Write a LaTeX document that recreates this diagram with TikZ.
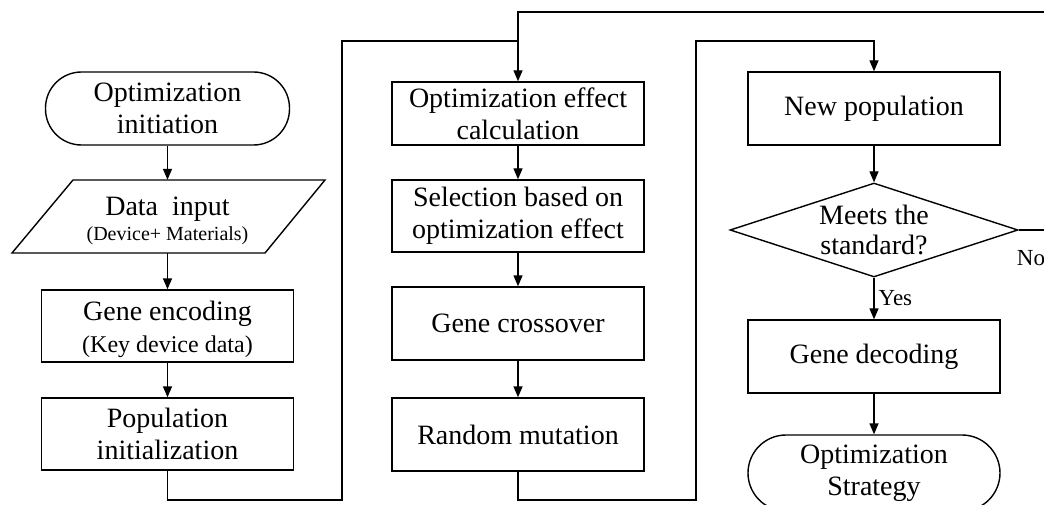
\documentclass[tikz,border=0pt]{standalone}
\usepackage{fontspec}
\setmainfont{Liberation Serif}
\usetikzlibrary{arrows.meta,shapes.geometric}
\begin{document}
\begin{tikzpicture}[x=1pt,y=-1pt,
  every node/.style={font=\fontsize{28}{32}\selectfont, align=center, inner sep=0pt},
  box/.style={draw, line width=1.4pt, minimum width=252pt, minimum height=73pt},
  term/.style={draw, line width=1.4pt, rounded corners=36pt, minimum width=244pt, minimum height=73pt},
  dec/.style={draw, line width=1.4pt, diamond, aspect=3.06, minimum width=288pt, minimum height=94pt},
  line/.style={line width=1.4pt},
  arr/.style={line, -{Triangle[length=11pt,width=9pt]}},
  lab/.style={font=\fontsize{23}{26}\selectfont}
]
\path[use as bounding box, clip] (0,0) rectangle (1044,505);
\fill[white] (0,0) rectangle (1044,505);

% column 1
\node[term] (start) at (167.5,108.5) {Optimization\\initiation};
\node[minimum width=252pt, minimum height=73pt] (data) at (167.5,216.5) {};
\node at ([yshift=-4pt]data.center)
  {Data\ \ input\\[-7pt]{\fontsize{20}{22}\selectfont (Device+ Materials)}};
\draw[line] (73,180) -- (325,180) -- (265,253) -- (12,253) -- cycle;
\node[box, minimum height=72pt] (gene) at (167.5,326) {};
\node at ([yshift=-3pt]gene.center) {Gene encoding\\{\fontsize{24}{30}\selectfont (Key device data)}};
\node[box, minimum height=72pt] (pop) at (167.5,434) {Population\\initialization};

% column 2
\node[box, minimum height=63pt] (calc) at (518,113.5) {Optimization effect\\calculation};
\node[box, minimum height=72pt] (sel) at (518,216) {Selection based on\\optimization effect};
\node[box] (cross) at (518,323.5) {Gene crossover};
\node[box] (mut) at (518,434.5) {Random mutation};

% column 3
\node[box] (newpop) at (874,108.5) {New population};
\node[dec, label={[font=\fontsize{28}{30}\selectfont, align=center]center:Meets the\\standard?}] (dm) at (874,230) {};
\node[box] (decode) at (874,356.5) {Gene decoding};
\node[term, minimum width=252pt, minimum height=76pt, rounded corners=38pt] (final) at (874,473) {Optimization\\Strategy};
\node[lab] (no) at (1031,258) {No};

% helper coordinates
\coordinate (b1) at (342,500);
\coordinate (t1) at (342,41);
\coordinate (b2) at (696,500);
\coordinate (r1) at (1060,12);

% connectors
\draw[arr] (start.south) -- (data.north);
\draw[arr] (data.south) -- (gene.north);
\draw[arr] (gene) -- (pop);
\draw[line] (pop.south) |- (b1) |- (calc.north |- t1);

\draw[arr] (calc) -- (sel);
\draw[arr] (sel) -- (cross);
\draw[arr] (cross) -- (mut);
\draw[arr] (mut.south) |- (b2) |- (newpop.north |- t1) -- (newpop.north);

\draw[arr] (newpop) -- (dm.north);
\draw[arr] (dm.south) -- node[lab, right=4pt] (yes) {Yes} (decode.north);
\draw[arr] (decode) -- (final);
\draw[arr] (dm.east) -| (r1) -- (calc.north |- r1) -- (calc.north);
\end{tikzpicture}
\end{document}
